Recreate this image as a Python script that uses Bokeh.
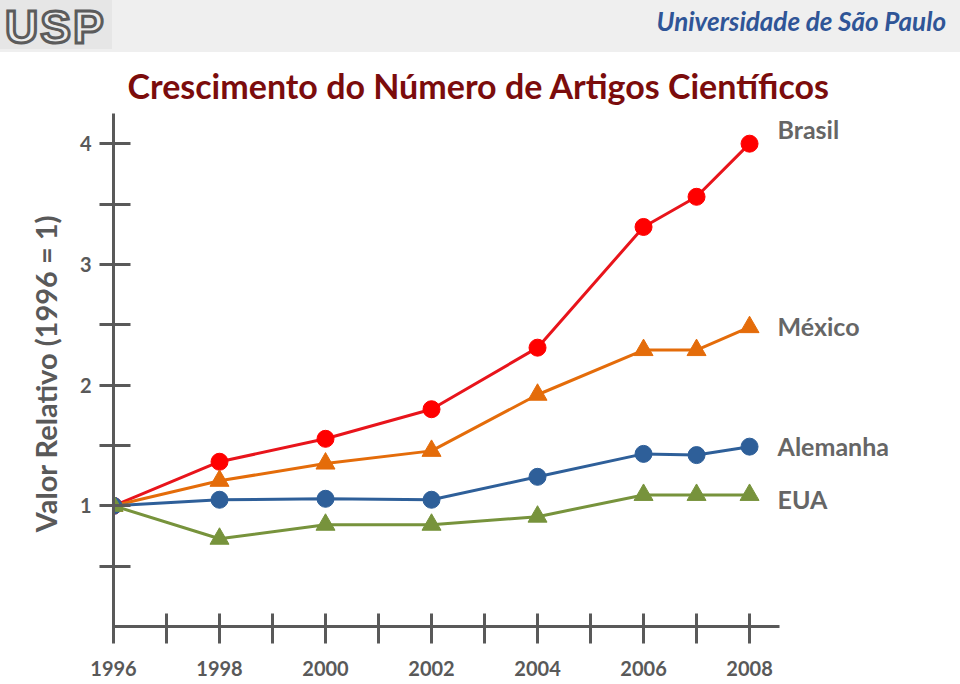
from bokeh.plotting import figure
from bokeh.models import Div, FixedTicker, Range1d, ColumnDataSource
from bokeh.layouts import column
from bokeh.embed import file_html
from bokeh.resources import INLINE
from bokeh.core.properties import value

# ---- data ----
years = [1996, 1998, 2000, 2002, 2004, 2006, 2007, 2008]
brasil = [1.0, 1.365, 1.555, 1.80, 2.31, 3.31, 3.56, 4.0]
mexico = [1.0, 1.207, 1.35, 1.455, 1.92, 2.29, 2.29, 2.48]
alemanha = [1.0, 1.05, 1.058, 1.05, 1.24, 1.43, 1.42, 1.49]
eua = [1.0, 0.727, 0.843, 0.843, 0.91, 1.09, 1.09, 1.09]
series_names = ["Brasil", "México", "Alemanha", "EUA"]

x_ticks = [1996, 1997, 1998, 1999, 2000, 2001, 2002, 2003, 2004, 2005, 2006, 2007, 2008]
x_tick_labels = ["1996", "", "1998", "", "2000", "", "2002", "", "2004", "", "2006", "", "2008"]
y_ticks = [0.5, 1, 1.5, 2, 2.5, 3, 3.5, 4]
y_tick_labels = ["", "1", "", "2", "", "3", "", "4"]

title_text = "Crescimento do Número de Artigos Científicos"
y_title = "Valor Relativo  (1996 = 1)"
header_text = "Universidade de São Paulo"
logo_text = "USP"

FONT = "Lato"
GRAY = "#595959"

header_html = f"""
<div style="position:relative;width:960px;height:52px;background:#efefef;">
  <div style="position:absolute;left:0;top:0;width:112px;height:49px;background:#e6e6e6;"></div>
  <div style="position:absolute;left:5px;top:0px;font-family:'Liberation Sans';font-weight:bold;font-size:46px;
       color:#ececec;-webkit-text-stroke:3px #5c5c5c;letter-spacing:2px;line-height:normal;">{logo_text}</div>
  <div style="position:absolute;right:14px;top:5px;font-family:'{FONT}';font-style:italic;font-weight:bold;
       font-size:26px;color:#2f5597;line-height:normal;">{header_text}</div>
</div>
"""
header = Div(text=header_html, width=960, height=52, margin=0)

p = figure(width=960, height=632, output_backend="svg", toolbar_location=None,
           x_range=Range1d(1996, 2011.98), y_range=Range1d(0, 4.25),
           min_border_left=113, min_border_top=61, min_border_bottom=58, min_border_right=0,
           title=title_text)
p.outline_line_color = None
p.grid.visible = False
p.background_fill_color = "white"
p.border_fill_color = "white"

p.title.text_font = FONT
p.title.text_font_size = "34px"
p.title.text_font_style = "bold"
p.title.text_color = "#7b0c0c"
p.title.offset = 14
p.title.standoff = 15

# axes
xa = p.xaxis[0]
xa.ticker = FixedTicker(ticks=x_ticks)
xa.major_label_overrides = {t: l for t, l in zip(x_ticks, x_tick_labels)}
xa.bounds = (1996, 2008.57)
xa.minor_tick_line_color = None
xa.major_tick_in = 13
xa.major_tick_out = 17
xa.major_label_standoff = 17
for ax in (xa, p.yaxis[0]):
    ax.axis_line_color = GRAY
    ax.axis_line_width = 3
    ax.major_tick_line_color = GRAY
    ax.major_tick_line_width = 3
    ax.major_label_text_font = FONT
    ax.major_label_text_font_style = "bold"
    ax.major_label_text_color = GRAY
xa.major_label_text_font_size = "20px"

ya = p.yaxis[0]
ya.ticker = FixedTicker(ticks=y_ticks)
ya.major_label_overrides = {t: l for t, l in zip(y_ticks, y_tick_labels)}
ya.minor_tick_line_color = None
ya.major_tick_in = 17
ya.major_tick_out = 14
ya.major_label_standoff = 8
ya.major_label_text_font_size = "20px"
ya.axis_label = y_title
ya.axis_label_text_font = FONT
ya.axis_label_text_font_style = "bold"
ya.axis_label_text_font_size = "29px"
ya.axis_label_text_color = GRAY
ya.axis_label_standoff = 14

# series
series = [
    (brasil, "#e8141b", "#ff0000", "circle", 17, -15),
    (mexico, "#e46c0a", "#e46c0a", "triangle", 19, -1),
    (alemanha, "#2e5f99", "#2e5f99", "circle", 17, -1),
    (eua, "#77933c", "#77933c", "triangle", 19, 4),
]
for vals, lc, mc, mk, sz, _ in series:
    src = ColumnDataSource(dict(x=years, y=vals))
    p.line("x", "y", source=src, line_color=lc, line_width=3)
    p.scatter("x", "y", source=src, marker=mk, size=sz, fill_color=mc, line_color=mc)

for (vals, lc, mc, mk, sz, yoff), name in zip(series, series_names):
    p.text(x=[years[-1]], y=[vals[-1]], text=[name], x_offset=28, y_offset=yoff,
           text_font=value(FONT), text_font_style="bold", text_font_size="25px",
           text_color="#666666", text_baseline="middle", text_align="left")

layout = column(header, p, spacing=0)
open("out.html", "w").write(file_html(layout, INLINE))
